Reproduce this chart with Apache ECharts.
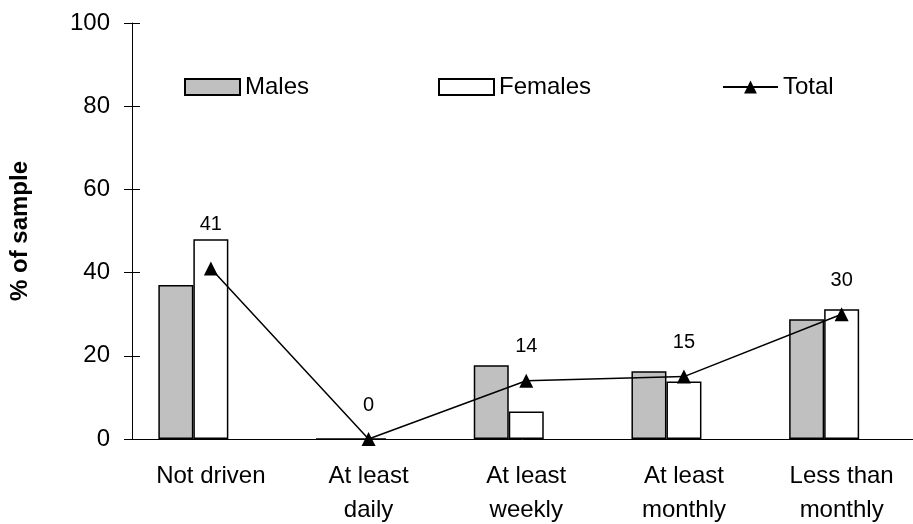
<!DOCTYPE html>
<html>
<head>
<meta charset="utf-8">
<script src="https://cdn.jsdelivr.net/npm/echarts@6/dist/echarts.min.js"></script>
<style>
  html, body { margin: 0; padding: 0; background: #fff; }
  #chart { width: 913px; height: 524px; }
</style>
</head>
<body>
<div id="chart"></div>
<script>
// Driving frequency by sex, % of sample
const categories = ['Not driven', 'At least\ndaily', 'At least\nweekly', 'At least\nmonthly', 'Less than\nmonthly'];
const males = [37, 0, 17.7, 16.3, 28.8];
const females = [48, 0, 6.6, 13.8, 31.2];
const total = [41, 0, 14, 15, 30];
const yTicks = [0, 20, 40, 60, 80, 100];

const FONT = '"Liberation Sans", Arial, sans-serif';
const chart = echarts.init(document.getElementById('chart'));

const legendText = { fontFamily: FONT, fontSize: 24, color: '#000' };

// the first label sits a little higher so it clears the Females bar
const totalData = total.map((v, i) => i === 0 ? { value: v, label: { distance: 27 } } : v);

chart.setOption({
  animation: false,
  backgroundColor: '#fff',
  grid: { left: 132, top: 23, bottom: 85, right: -7.5, containLabel: false, outerBoundsMode: 'none' },
  legend: [
    { data: [{ name: 'Males', icon: 'rect' }], left: 179, top: 70, itemWidth: 55, itemHeight: 16, textStyle: legendText },
    { data: [{ name: 'Females', icon: 'rect' }], left: 433, top: 70, itemWidth: 55, itemHeight: 16, textStyle: legendText },
    { data: ['Total'], left: 717, top: 70, itemWidth: 55, itemHeight: 16, textStyle: legendText }
  ],
  xAxis: {
    type: 'category',
    data: categories,
    axisLine: { lineStyle: { color: '#000', width: 1 } },
    axisTick: { length: 7, lineStyle: { color: '#000' } },
    axisLabel: { fontFamily: FONT, fontSize: 24, color: '#000', lineHeight: 34, margin: 20, interval: 0 }
  },
  yAxis: [
    {
      type: 'value', min: yTicks[0], max: yTicks[yTicks.length - 1], interval: 20,
      name: '% of sample', nameLocation: 'middle', nameGap: 100, nameRotate: 90,
      nameTextStyle: { fontFamily: FONT, fontSize: 24, fontWeight: 'bold', color: '#000' },
      axisLine: { show: true, lineStyle: { color: '#000', width: 1 } },
      axisTick: { show: true, length: 8, lineStyle: { color: '#000' } },
      axisLabel: { fontFamily: FONT, fontSize: 24, color: '#000', margin: 22 },
      splitLine: { show: false }
    },
    {
      type: 'value', min: yTicks[0], max: yTicks[yTicks.length - 1], interval: 20,
      position: 'left',
      axisLine: { show: false },
      axisTick: { show: true, inside: true, length: 8, lineStyle: { color: '#000' } },
      axisLabel: { show: false },
      splitLine: { show: false }
    }
  ],
  series: [
    {
      name: 'Males', type: 'bar', data: males, barWidth: 35, barGap: '0%',
      itemStyle: { color: '#c0c0c0', borderColor: '#000', borderWidth: 1.5 }
    },
    {
      name: 'Females', type: 'bar', data: females, barWidth: 35, barGap: '0%',
      itemStyle: { color: '#fff', borderColor: '#000', borderWidth: 1.5 }
    },
    {
      // empty slot that keeps the bar pair left of the category centre
      name: 'slot', type: 'bar', data: [null, null, null, null, null], barWidth: 35, barGap: '0%',
      itemStyle: { opacity: 0 }, silent: true
    },
    {
      name: 'Total', type: 'line', data: totalData, z: 5,
      symbol: 'triangle', symbolSize: 14,
      lineStyle: { color: '#000', width: 1.5 },
      itemStyle: { color: '#000' },
      label: { show: true, position: 'top', distance: 17, fontFamily: FONT, fontSize: 20, color: '#000' }
    }
  ]
});
</script>
</body>
</html>
